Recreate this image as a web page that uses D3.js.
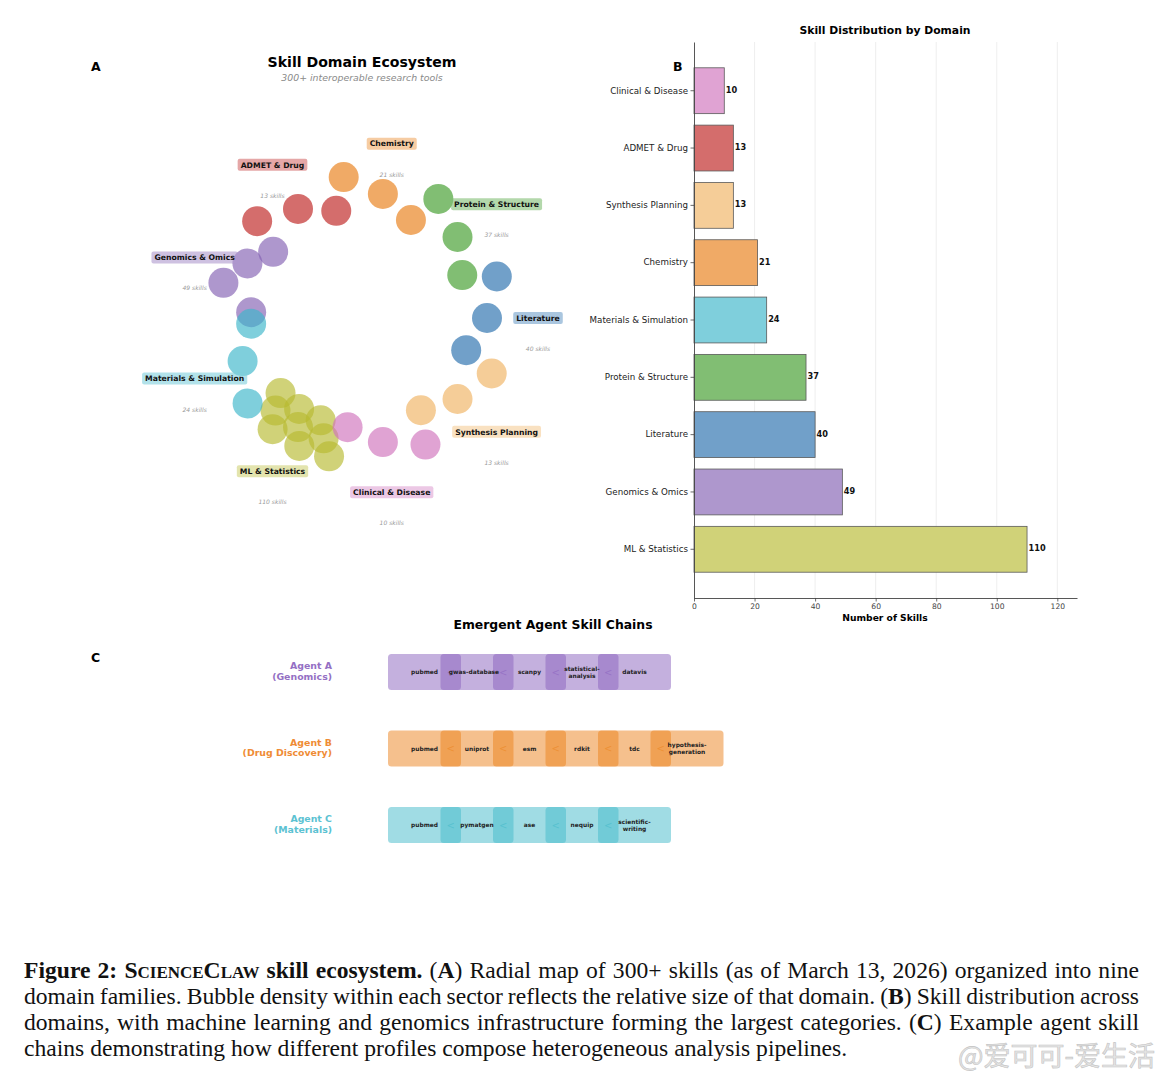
<!DOCTYPE html>
<html lang="en">
<head>
<meta charset="UTF-8">
<title>ScienceClaw skill ecosystem</title>
<script src="https://cdnjs.cloudflare.com/ajax/libs/d3/7.8.5/d3.min.js"></script>
<style>
  body { margin: 0; padding: 0; background: #ffffff; }
  svg { display: block; font-family: "DejaVu Sans", sans-serif; }
  .caption { font-family: "Liberation Serif", "Times New Roman", serif; font-size: 23.6px; fill: #111; }
</style>
</head>
<body>
<script>
// ---- data ----
// panel A: domains in their angular order (clockwise from 3 o'clock)
const domains = ["Literature", "Synthesis Planning", "Clinical & Disease", "ML & Statistics",
                 "Materials & Simulation", "Genomics & Omics", "ADMET & Drug", "Chemistry", "Protein & Structure"];
const skillCounts = [40, 13, 10, 110, 24, 49, 13, 21, 37];
const bubbleCounts = [3, 3, 3, 9, 3, 4, 3, 3, 3];
const domainColors = ["#71a0c9", "#f5cd98", "#e0a3d3", "#d0d278", "#7fcfdc",
                      "#ae97cd", "#d46d6c", "#f0aa66", "#81be73"];

// panel B: bar order, top to bottom
const barDomains = ["Clinical & Disease", "ADMET & Drug", "Synthesis Planning", "Chemistry",
                    "Materials & Simulation", "Protein & Structure", "Literature", "Genomics & Omics", "ML & Statistics"];
const xTicks = [0, 20, 40, 60, 80, 100, 120];

// panel C: agent skill chains
const agentNames = ["Agent A", "Agent B", "Agent C"];
const agentRoles = ["(Genomics)", "(Drug Discovery)", "(Materials)"];
const agentColors = ["#8a62be", "#eb821b", "#42b9c9"];
const agentLabelColors = ["#9470c4", "#ef8c35", "#5cc2d2"];
const chainA = ["pubmed", "gwas-database", "scanpy", "statistical-\nanalysis", "datavis"];
const chainB = ["pubmed", "uniprot", "esm", "rdkit", "tdc", "hypothesis-\ngeneration"];
const chainC = ["pubmed", "pymatgen", "ase", "nequip", "scientific-\nwriting"];
const chains = [chainA, chainB, chainC];

const W = 1166, H = 1080;
const svg = d3.select("body").append("svg")
    .attr("width", W).attr("height", H);
svg.append("rect").attr("width", W).attr("height", H).attr("fill", "#fff");

const colorOf = name => domainColors[domains.indexOf(name)];

// colour that gives `hex` on white when drawn with opacity a
function baseForAlpha(hex, a) {
    const c = d3.rgb(hex);
    const f = v => Math.max(0, Math.round(255 - (255 - v) / a));
    return d3.rgb(f(c.r), f(c.g), f(c.b)).formatHex();
}

// ============ Panel A : radial map ============
const gA = svg.append("g");
const cx = 361, cy = 318;
const sectorAngle = d3.scaleLinear().domain([0, domains.length]).range([0, 360]);
const ringRadius = d3.scaleLinear().domain([0, 2]).range([110, 142]);
const bubbleAlpha = 0.65;

gA.append("text").attr("x", 91).attr("y", 71).attr("font-size", 12.5).attr("font-weight", "bold").text("A");
gA.append("text").attr("x", 362).attr("y", 67).attr("text-anchor", "middle")
    .attr("font-size", 14.1).attr("font-weight", "bold").text("Skill Domain Ecosystem");
gA.append("text").attr("x", 362).attr("y", 81).attr("text-anchor", "middle")
    .attr("font-size", 9.4).attr("font-style", "italic").attr("fill", "#8a8a8a")
    .text("300+ interoperable research tools");

// build bubbles, draw larger domains first
const bubbles = [];
const drawOrder = d3.range(domains.length).sort((a, b) => skillCounts[b] - skillCounts[a]);
drawOrder.forEach(k => {
    const n = bubbleCounts[k];
    const a0 = sectorAngle(k);
    const off = d3.scaleLinear().domain([0, n - 1]).range([17, -17]);
    for (let i = 0; i < n; i++) {
        const ang = (a0 + off(i)) * Math.PI / 180;
        const r = ringRadius(i % 3);
        bubbles.push({ k, x: cx + r * Math.cos(ang), y: cy + r * Math.sin(ang) });
    }
});

gA.selectAll("circle.bubble").data(bubbles).enter().append("circle")
    .attr("class", "bubble")
    .attr("cx", d => d.x).attr("cy", d => d.y).attr("r", 15)
    .attr("fill", d => baseForAlpha(domainColors[d.k], bubbleAlpha))
    .attr("fill-opacity", bubbleAlpha);

// domain labels
domains.forEach((name, k) => {
    const ang = sectorAngle(k) * Math.PI / 180;
    const lx = cx + 177 * Math.cos(ang), ly = cy + 177 * Math.sin(ang);
    const lg = gA.append("g");
    const t = lg.append("text").attr("x", lx).attr("y", ly + 2.8)
        .attr("text-anchor", "middle").attr("font-size", 7.7).attr("font-weight", "bold")
        .attr("fill", "#111").text(name);
    const w = t.node().getComputedTextLength();
    lg.insert("rect", "text")
        .attr("x", lx - w / 2 - 3).attr("y", ly - 6).attr("width", w + 6).attr("height", 12)
        .attr("rx", 2).attr("fill", domainColors[k]).attr("fill-opacity", 0.6);
    gA.append("text").attr("x", lx).attr("y", ly + 33).attr("text-anchor", "middle")
        .attr("font-size", 6).attr("font-style", "italic").attr("fill", "#9a9a9a")
        .text(skillCounts[k] + " skills");
});

// ============ Panel B : bar chart ============
const gB = svg.append("g");
const x = d3.scaleLinear().domain([0, 126.5]).range([694, 1077]);
const y = d3.scaleBand().domain(barDomains).range([42, 598]).paddingInner(0.2).paddingOuter(0.45);

gB.selectAll("line.grid").data(xTicks.slice(1)).enter().append("line")
    .attr("class", "grid")
    .attr("x1", d => x(d)).attr("x2", d => x(d)).attr("y1", 42).attr("y2", 598)
    .attr("stroke", "#e6e6e6").attr("stroke-width", 0.7);

gB.selectAll("rect.bar").data(barDomains).enter().append("rect")
    .attr("class", "bar")
    .attr("x", x(0)).attr("y", d => y(d))
    .attr("width", d => x(skillCounts[domains.indexOf(d)]) - x(0))
    .attr("height", y.bandwidth())
    .attr("fill", d => colorOf(d))
    .attr("stroke", "#5a5a5a").attr("stroke-width", 0.8);

gB.selectAll("text.val").data(barDomains).enter().append("text")
    .attr("class", "val")
    .attr("x", d => x(skillCounts[domains.indexOf(d)]) + 1.5)
    .attr("y", d => y(d) + y.bandwidth() / 2 + 2)
    .attr("font-size", 8.2).attr("font-weight", "bold").attr("fill", "#111")
    .text(d => skillCounts[domains.indexOf(d)]);

const yAxis = gB.append("g").attr("transform", `translate(${x(0)},0)`)
    .call(d3.axisLeft(y).tickSize(3.5).tickSizeOuter(0).tickPadding(2.5));
const xAxis = gB.append("g").attr("transform", "translate(0,598)")
    .call(d3.axisBottom(x).tickValues(xTicks).tickSize(3.5).tickSizeOuter(0).tickPadding(2.5));
[yAxis, xAxis].forEach(ax => {
    ax.select(".domain").attr("stroke", "#444").attr("stroke-width", 0.9);
    ax.selectAll(".tick line").attr("stroke", "#444").attr("stroke-width", 0.8);
    ax.selectAll(".tick text").attr("font-family", "DejaVu Sans").attr("fill", "#222");
});
yAxis.selectAll(".tick text").attr("font-size", 8.7);
xAxis.selectAll(".tick text").attr("font-size", 7.6).attr("fill", "#444");

gB.append("text").attr("x", 885).attr("y", 34).attr("text-anchor", "middle")
    .attr("font-size", 10.8).attr("font-weight", "bold").text("Skill Distribution by Domain");
gB.append("text").attr("x", 885).attr("y", 621).attr("text-anchor", "middle")
    .attr("font-size", 9.2).attr("font-weight", "bold").text("Number of Skills");
gB.append("text").attr("x", 673).attr("y", 71).attr("font-size", 12.5).attr("font-weight", "bold").text("B");

// ============ Panel C : skill chains ============
const gC = svg.append("g");
gC.append("text").attr("x", 553).attr("y", 629).attr("text-anchor", "middle")
    .attr("font-size", 12.4).attr("font-weight", "bold").text("Emergent Agent Skill Chains");
gC.append("text").attr("x", 91).attr("y", 662).attr("font-size", 12.5).attr("font-weight", "bold").text("C");

const rowY = d3.scaleLinear().domain([0, 2]).range([672, 825]);
const stepX = d3.scaleLinear().domain([0, 1]).range([424.5, 477]);
const boxW = 73, boxH = 36, chainAlpha = 0.5;

chains.forEach((chain, r) => {
    const yc = rowY(r);
    const g = gC.append("g");
    g.append("text").attr("x", 332).attr("y", yc - 3).attr("text-anchor", "end")
        .attr("font-size", 9.4).attr("font-weight", "bold").attr("fill", agentLabelColors[r])
        .text(agentNames[r]);
    g.append("text").attr("x", 332).attr("y", yc + 7.8).attr("text-anchor", "end")
        .attr("font-size", 9.4).attr("font-weight", "bold").attr("fill", agentLabelColors[r])
        .text(agentRoles[r]);

    g.selectAll("rect.skill").data(chain).enter().append("rect")
        .attr("class", "skill")
        .attr("x", (d, i) => stepX(i) - boxW / 2).attr("y", yc - boxH / 2)
        .attr("width", boxW).attr("height", boxH).attr("rx", 3.5)
        .attr("fill", agentColors[r]).attr("fill-opacity", chainAlpha);

    // arrows sit under the skill names
    g.selectAll("text.arrow").data(d3.range(chain.length - 1)).enter().append("text")
        .attr("class", "arrow")
        .attr("x", i => (stepX(i) + stepX(i + 1)) / 2).attr("y", yc + 3.5)
        .attr("text-anchor", "middle").attr("font-size", 10)
        .attr("fill", agentColors[r]).attr("fill-opacity", 0.55)
        .text("<");

    chain.forEach((s, i) => {
        const lines = s.split("\n");
        const t = g.append("text").attr("text-anchor", "middle")
            .attr("font-size", 5.9).attr("font-weight", "bold").attr("fill", "#222");
        lines.forEach((ln, j) => {
            t.append("tspan").attr("x", stepX(i) + (s === "gwas-database" ? -3 : 0))
                .attr("y", yc + 2 + (j - (lines.length - 1) / 2) * 7).text(ln);
        });
    });
});

// ============ caption ============
const capX0 = 24, capX1 = 1139, lineH = 26, capY = 978;
const captionLines = [
    [["Figure 2: ", "b"], ["ScienceClaw", "bsc"], [" skill ecosystem.", "b"], [" (", ""], ["A", "b"],
     [") Radial map of 300+ skills (as of March 13, 2026) organized into nine", ""]],
    [["domain families. Bubble density within each sector reflects the relative size of that domain. (", ""],
     ["B", "b"], [") Skill distribution across", ""]],
    [["domains, with machine learning and genomics infrastructure forming the largest categories. (", ""],
     ["C", "b"], [") Example agent skill", ""]],
    [["chains demonstrating how different profiles compose heterogeneous analysis pipelines.", ""]]
];
captionLines.forEach((parts, li) => {
    const t = svg.append("text").attr("class", "caption")
        .attr("x", capX0).attr("y", capY + li * lineH);
    parts.forEach(([s, st]) => {
        const ts = t.append("tspan").text(s);
        if (st.includes("b")) ts.attr("font-weight", "bold");
        if (st.includes("sc")) ts.attr("font-variant", "small-caps");
    });
    if (li < captionLines.length - 1) {
        const full = parts.map(p => p[0]).join("");
        const spaces = (full.match(/ /g) || []).length;
        const w = t.node().getComputedTextLength();
        t.attr("word-spacing", (capX1 - capX0 - w) / spaces);
    }
});

// watermark
svg.append("text").attr("x", 1155).attr("y", 1066).attr("text-anchor", "end")
    .attr("font-family", "Noto Sans CJK SC").attr("font-size", 27)
    .attr("fill", "#e4e4e4").attr("stroke", "#c4c4c4").attr("stroke-width", 0.6)
    .text("@爱可可-爱生活");
</script>
</body>
</html>
